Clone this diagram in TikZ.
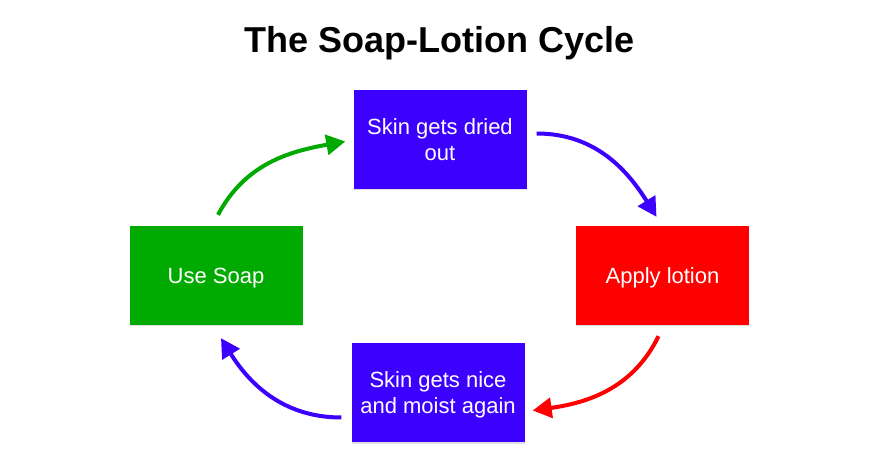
\documentclass[tikz,border=0pt]{standalone}
\usepackage{fontspec}
\setmainfont{Liberation Sans}
\usepackage{tikz}
\usetikzlibrary{arrows.meta,shadows}
\definecolor{cycblue}{RGB}{60,0,255}
\definecolor{cycgreen}{RGB}{0,170,0}
\definecolor{cycred}{RGB}{255,0,0}

\begin{document}
\begin{tikzpicture}[x=1pt,y=1pt,>={Triangle[length=19pt,width=20pt]},
  stepbox/.style={minimum width=173pt,minimum height=99pt,inner sep=0pt,
    align=center,text=white,text depth=0pt,font=\fontsize{22}{26}\selectfont,
    drop shadow={shadow xshift=0pt,shadow yshift=-1.5pt,opacity=.25}},
  cycarrow/.style={->,line width=4pt}]
  \useasboundingbox (0,0) rectangle (879,464);
  \node[anchor=base,font=\fontsize{36}{42}\selectfont\bfseries] (title) at (440,411.5) {The Soap-Lotion Cycle};
  \node[stepbox,fill=cycblue] (dry) at (440,324.5) {Skin gets dried\\out};
  \node[stepbox,fill=cycred] (lotion) at (662.5,188.5) {Apply lotion};
  \node[stepbox,fill=cycgreen] (soap) at (216,188.5) {Use Soap};
  \node[stepbox,fill=cycblue] (moist) at (438,71.5) {Skin gets nice\\and moist again};
  \draw[cycarrow,cycgreen] ([xshift=2pt,yshift=11pt]soap.north) to[out=62,in=190]
    ([xshift=-8pt,yshift=-2pt]dry.west);
  \draw[cycarrow,cycblue] ([xshift=10pt,yshift=6pt]dry.east) to[out=0,in=122]
    ([xshift=-6pt,yshift=9pt]lotion.north);
  \draw[cycarrow,cycred] ([xshift=-4pt,yshift=-11pt]lotion.south) to[out=-116,in=8]
    ([xshift=8pt,yshift=-18pt]moist.east);
  \draw[cycarrow,cycblue] ([xshift=-10pt,yshift=-25pt]moist.west) to[out=180,in=-58]
    ([xshift=5pt,yshift=-13pt]soap.south);
\end{tikzpicture}
\end{document}
